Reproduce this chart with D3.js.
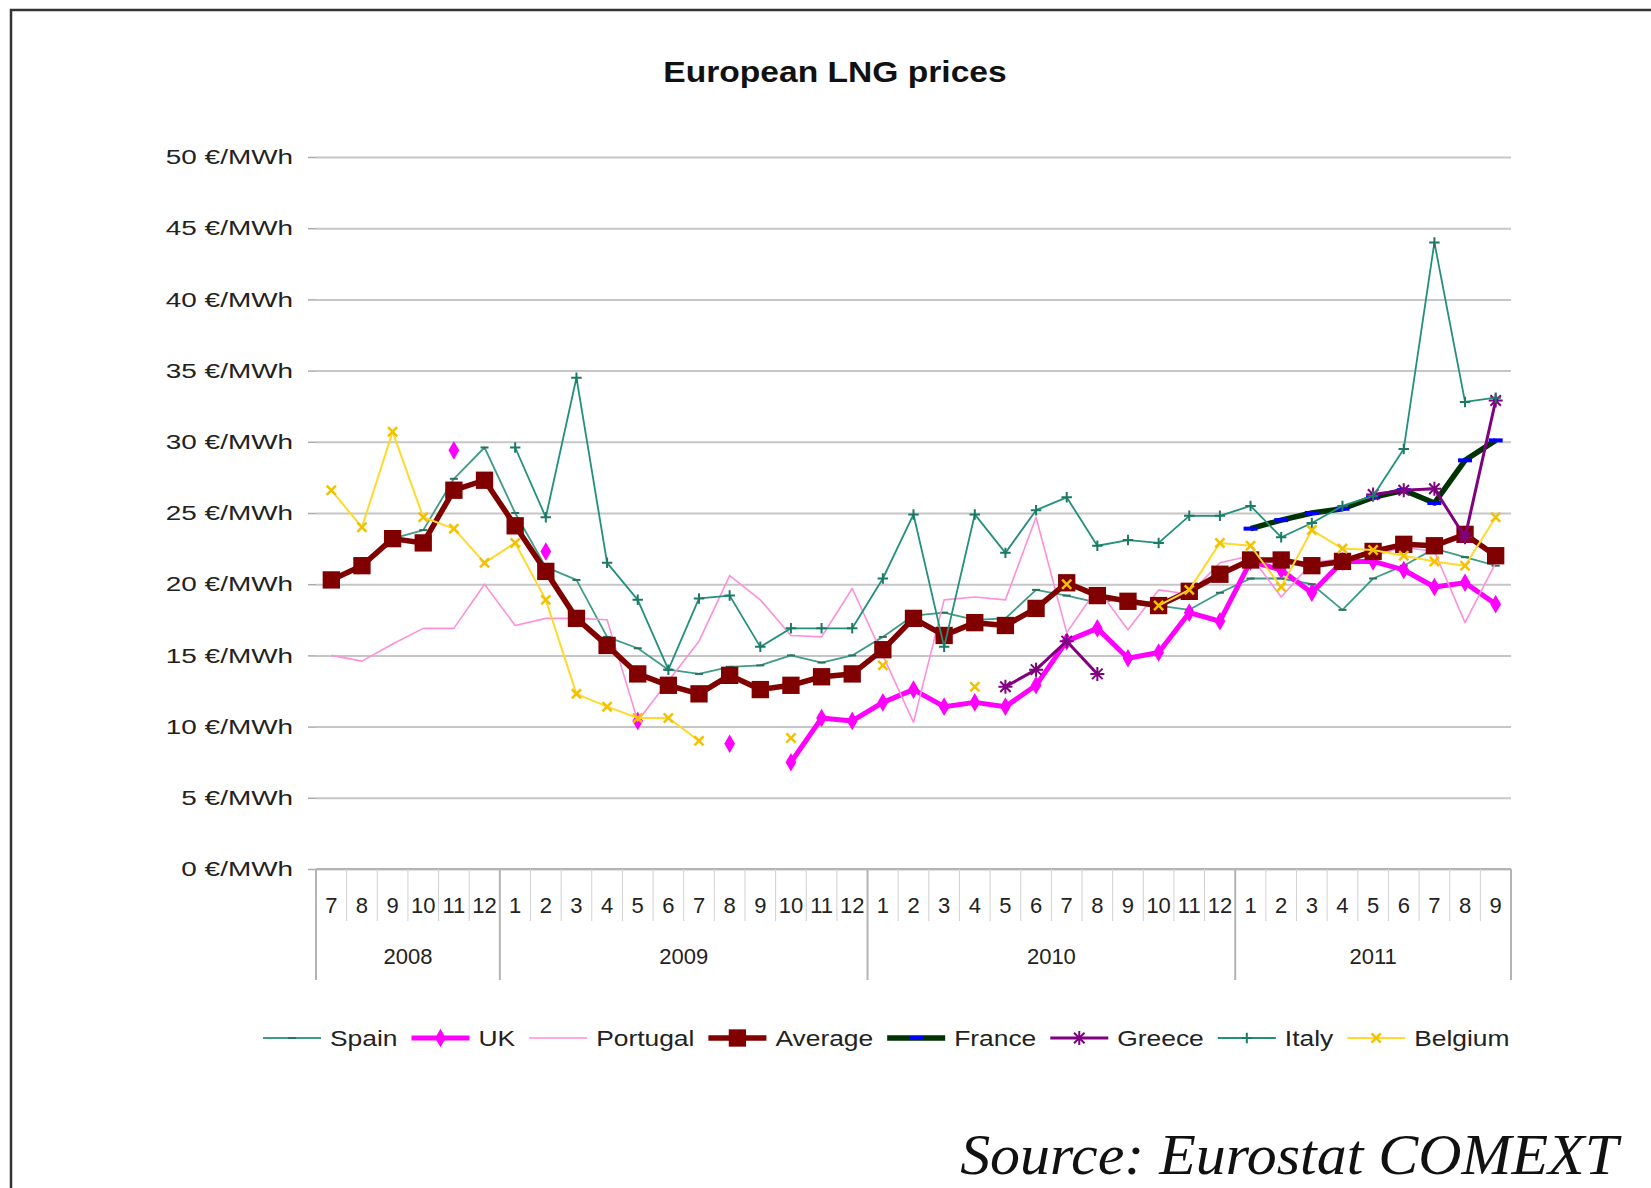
<!DOCTYPE html>
<html>
<head>
<meta charset="utf-8">
<script src="https://cdnjs.cloudflare.com/ajax/libs/d3/7.8.5/d3.min.js"></script>
<style>
body { margin: 0; background: #fff; }
svg text { font-family: "Liberation Sans", Arial, sans-serif; fill: #222; }
</style>
</head>
<body>
<script>
// months, Jul 2008 .. Sep 2011
var periods = [
  "2008-07","2008-08","2008-09","2008-10","2008-11","2008-12",
  "2009-01","2009-02","2009-03","2009-04","2009-05","2009-06","2009-07","2009-08","2009-09","2009-10","2009-11","2009-12",
  "2010-01","2010-02","2010-03","2010-04","2010-05","2010-06","2010-07","2010-08","2010-09","2010-10","2010-11","2010-12",
  "2011-01","2011-02","2011-03","2011-04","2011-05","2011-06","2011-07","2011-08","2011-09"
];
var yTicks = [0, 5, 10, 15, 20, 25, 30, 35, 40, 45, 50];

// prices in €/MWh, null = no data
var spain = [20.3,21.3,23.2,23.8,27.4,29.6,
  25.0,21.2,20.3,16.3,15.5,14.0,13.7,14.2,14.3,15.0,14.5,15.0,
  16.3,17.8,18.0,17.5,17.6,19.6,19.2,18.7,19.0,18.5,18.2,19.4,
  20.4,20.4,20.0,18.2,20.4,21.3,22.5,21.9,21.3];
var uk = [null,null,null,null,29.4,null,
  null,22.3,null,null,10.4,null,null,8.8,null,7.5,10.6,10.4,
  11.7,12.6,11.4,11.7,11.4,12.9,16.0,16.9,14.8,15.2,18.0,17.4,
  21.6,21.0,19.4,21.6,21.6,21.0,19.8,20.1,18.6];
var portugal = [15.0,14.6,15.8,16.9,16.9,20.0,
  17.1,17.6,17.6,17.5,10.4,13.2,16.0,20.6,18.9,16.4,16.3,19.7,
  15.0,10.3,18.9,19.1,18.9,24.7,16.6,19.7,16.8,19.6,19.3,21.5,
  22.0,19.1,21.5,21.8,22.0,22.6,22.3,17.3,21.5];
var average = [20.3,21.3,23.2,22.9,26.6,27.3,
  24.1,20.9,17.6,15.7,13.7,12.9,12.3,13.6,12.6,12.9,13.5,13.7,
  15.4,17.6,16.4,17.3,17.1,18.3,20.1,19.2,18.8,18.5,19.5,20.7,
  21.7,21.7,21.3,21.6,22.3,22.8,22.7,23.5,22.0];
var france = [null,null,null,null,null,null,
  null,null,null,null,null,null,null,null,null,null,null,null,
  null,null,null,null,null,null,null,null,null,null,null,null,
  23.9,24.5,25.0,25.3,26.1,26.6,25.7,28.7,30.1];
var greece = [null,null,null,null,null,null,
  null,null,null,null,null,null,null,null,null,null,null,null,
  null,null,null,null,12.8,14.0,16.0,13.7,null,null,null,null,
  null,null,null,null,26.3,26.6,26.7,23.3,32.9];
var italy = [null,null,null,null,null,null,
  29.6,24.7,34.5,21.5,18.9,14.0,19.0,19.2,15.6,16.9,16.9,16.9,
  20.4,24.9,15.6,24.9,22.2,25.2,26.1,22.7,23.1,22.9,24.8,24.8,
  25.5,23.3,24.3,25.5,26.2,29.5,44.0,32.8,33.1];
var belgium = [26.6,24.0,30.7,24.7,23.9,21.5,
  22.9,18.9,12.3,11.4,10.6,10.6,9.0,null,null,9.2,null,null,
  14.3,null,null,12.8,null,null,20.0,null,null,18.5,19.6,22.9,
  22.7,19.8,23.8,22.5,22.4,22.0,21.6,21.3,24.7];

var W = 1651, H = 1188;
var margin = {top: 157, right: 140, bottom: 319, left: 316},
width = W - margin.left - margin.right,
height = H - margin.top - margin.bottom;

// stroke markers
var symDash = {draw: function(c, s) { var r = Math.sqrt(s) / 2; c.moveTo(-r, 0); c.lineTo(r, 0); }};
var symPlus = {draw: function(c, s) { var r = Math.sqrt(s) / 2; c.moveTo(-r, 0); c.lineTo(r, 0); c.moveTo(0, -r); c.lineTo(0, r); }};
var symTimes = {draw: function(c, s) { var r = Math.sqrt(s) / 2 * 0.75; c.moveTo(-r, -r); c.lineTo(r, r); c.moveTo(-r, r); c.lineTo(r, -r); }};
var symStar = {draw: function(c, s) { symPlus.draw(c, s); symTimes.draw(c, s); }};

var series = [
  {name: "Spain", values: spain, color: "#3f9c86", w: 1.8, sym: symDash, size: 64, mcolor: "#2a6f60", mw: 2, fill: false},
  {name: "UK", values: uk, color: "#ff00ff", w: 5, sym: d3.symbolDiamond, size: 100, mcolor: "#ff00ff", fill: true},
  {name: "Portugal", values: portugal, color: "#ff8fd8", w: 1.6, sym: null},
  {name: "Average", values: average, color: "#800000", w: 5.5, sym: d3.symbolSquare, size: 300, mcolor: "#800000", fill: true},
  {name: "France", values: france, color: "#003300", w: 5.5, sym: symDash, size: 196, mcolor: "#0000ff", mw: 4, fill: false},
  {name: "Greece", values: greece, color: "#800080", w: 3, sym: symStar, size: 196, mcolor: "#800080", mw: 2, fill: false},
  {name: "Italy", values: italy, color: "#22907a", w: 1.8, sym: symPlus, size: 110, mcolor: "#1b7a66", mw: 2, fill: false},
  {name: "Belgium", values: belgium, color: "#ffd92e", w: 2, sym: symTimes, size: 150, mcolor: "#f2c100", mw: 2.5, fill: false}
];

var x = d3.scaleBand().domain(periods).range([0, width]);
var y = d3.scaleLinear().domain([0, 50]).range([height, 0]);
function cx(i) { return x(periods[i]) + x.bandwidth() / 2; }

var svg = d3.select("body").append("svg")
.attr("width", W)
.attr("height", H);

// outer frame
svg.append("path")
.attr("d", "M11," + H + "V10H" + W)
.attr("fill", "none")
.attr("stroke", "#333")
.attr("stroke-width", 2.5);

svg.append("text")
.attr("transform", "translate(835,82) scale(1.12,1)")
.attr("text-anchor", "middle")
.style("font-size", "30px")
.style("font-weight", "bold")
.style("fill", "#111")
.text("European LNG prices");

var g = svg.append("g")
.attr("transform", "translate(" + margin.left + "," + margin.top + ")");

// grid
g.append("g")
.call(d3.axisLeft(y).tickValues(yTicks).tickSize(-width).tickFormat(""))
.call(function(a) { a.select(".domain").remove(); })
.selectAll("line")
.attr("stroke", "#c6c6c6")
.attr("stroke-width", 2);

// y axis
var yAx = g.append("g")
.call(d3.axisLeft(y).tickValues(yTicks).tickSize(8).tickPadding(9.3).tickFormat(function(d) { return d + " €/MWh"; }));
yAx.select(".domain").remove();
yAx.selectAll("line").attr("stroke", "#aaa").attr("stroke-width", 1.5);
yAx.selectAll("text")
.attr("transform", "scale(1.33,1)")
.style("font-size", "21px")
.style("fill", "#222");

// category axis
var xAx = g.append("g").attr("transform", "translate(0," + height + ")");
xAx.append("line")
.attr("x1", 0).attr("x2", width)
.attr("stroke", "#b4b4b4").attr("stroke-width", 2);

var bounds = periods.map(function(p, i) { return {x: x(p), year: i == 0 || p.slice(5) == "01"}; });
bounds.push({x: width, year: true});
xAx.selectAll("line.sep")
.data(bounds)
.enter().append("line")
.attr("class", "sep")
.attr("x1", function(d) { return d.x; })
.attr("x2", function(d) { return d.x; })
.attr("y1", 0)
.attr("y2", function(d) { return d.year ? 111 : 52; })
.attr("stroke", function(d) { return d.year ? "#b4b4b4" : "#d0d0d0"; })
.attr("stroke-width", function(d) { return d.year ? 2 : 1; });

xAx.selectAll("text.month")
.data(periods)
.enter().append("text")
.attr("class", "month")
.attr("x", function(d, i) { return cx(i); })
.attr("y", 36)
.attr("dy", ".35em")
.attr("text-anchor", "middle")
.style("font-size", "22px")
.text(function(d) { return +d.slice(5); });

var years = d3.groups(periods, function(p) { return p.slice(0, 4); });
xAx.selectAll("text.year")
.data(years)
.enter().append("text")
.attr("class", "year")
.attr("x", function(d) {
    var a = x(d[1][0]), b = x(d[1][d[1].length - 1]) + x.bandwidth();
    return (a + b) / 2;
})
.attr("y", 87)
.attr("dy", ".35em")
.attr("text-anchor", "middle")
.style("font-size", "22px")
.text(function(d) { return d[0]; });

// series lines
var line = d3.line()
.defined(function(d) { return d != null; })
.x(function(d, i) { return cx(i); })
.y(function(d) { return y(d); });

function drawMarker(sel, s) {
    sel.attr("d", d3.symbol().type(s.sym).size(s.size))
    .attr("fill", s.fill ? s.mcolor : "none")
    .attr("stroke", s.fill ? "none" : s.mcolor)
    .attr("stroke-width", s.mw || 0);
}

series.forEach(function(s) {
    var sg = g.append("g").attr("class", "series");
    sg.append("path")
    .attr("d", line(s.values))
    .attr("fill", "none")
    .attr("stroke", s.color)
    .attr("stroke-width", s.w)
    .attr("stroke-linejoin", "round");
    if (s.sym) {
        var pts = s.values.map(function(v, i) { return {v: v, i: i}; })
        .filter(function(d) { return d.v != null; });
        sg.selectAll("path.m")
        .data(pts)
        .enter().append("path")
        .attr("class", "m")
        .attr("transform", function(d) { return "translate(" + cx(d.i) + "," + y(d.v) + ")"; })
        .call(drawMarker, s);
    }
});

// legend
var legend = svg.append("g");
var lx = 263, ly = 1038;
series.forEach(function(s) {
    var item = legend.append("g").attr("transform", "translate(" + lx + "," + ly + ")");
    item.append("line")
    .attr("x1", 0).attr("x2", 58)
    .attr("stroke", s.color)
    .attr("stroke-width", s.w);
    if (s.sym) {
        item.append("path")
        .attr("transform", "translate(29,0)")
        .call(drawMarker, s);
    }
    var t = item.append("text")
    .attr("transform", "translate(67,0) scale(1.2,1)")
    .attr("dy", ".35em")
    .style("font-size", "22px")
    .text(s.name);
    lx += 67 + t.node().getComputedTextLength() * 1.2 + 14;
});

// source note, kept inside the bottom edge
svg.append("text")
.attr("transform", "translate(1618,1174) scale(1.07,1)")
.attr("text-anchor", "end")
.style("font-family", "'Liberation Serif', 'Times New Roman', serif")
.style("font-style", "italic")
.style("font-size", "56px")
.style("fill", "#111")
.text("Source: Eurostat COMEXT");
</script>
</body>
</html>
